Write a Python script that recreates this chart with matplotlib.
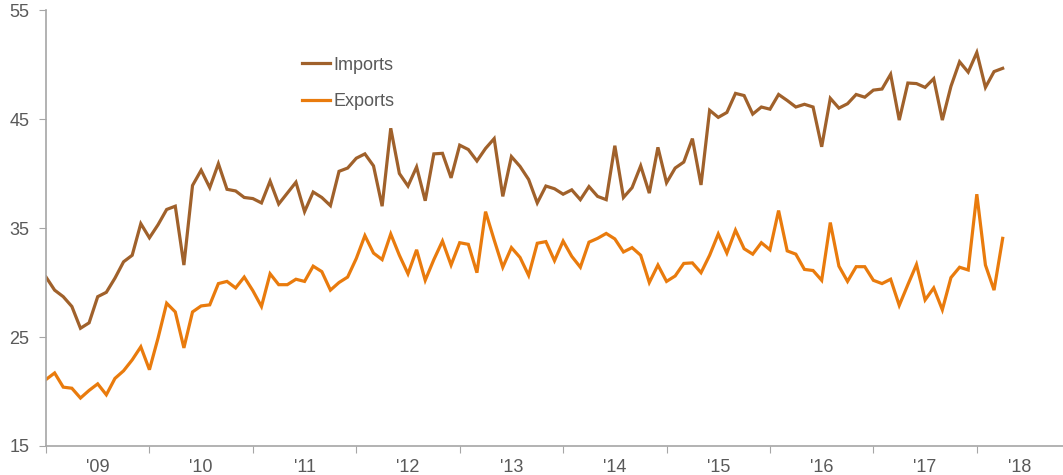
import matplotlib
matplotlib.use("Agg")
import matplotlib.pyplot as plt
import numpy as np

plt.rcParams["font.family"] = ["Liberation Sans", "DejaVu Sans"]

# monthly values, Jan 2009 - Apr 2018
imports = [30.5, 29.3, 28.7, 27.8, 25.8, 26.3, 28.7, 29.1, 30.4, 31.9,
           32.5, 35.4, 34.1, 35.3, 36.7, 37.0, 31.6, 38.9, 40.3, 38.7,
           40.9, 38.55, 38.4, 37.8, 37.7, 37.3, 39.3, 37.2, 38.2, 39.2,
           36.5, 38.3, 37.8, 37.05, 40.2, 40.5, 41.4, 41.8, 40.7, 37.0,
           44.15, 40.0, 38.85, 40.6, 37.5, 41.8, 41.85, 39.6, 42.6, 42.2,
           41.15, 42.3, 43.2, 37.9, 41.55, 40.65, 39.45, 37.3, 38.85, 38.6,
           38.1, 38.5, 37.6, 38.8, 37.9, 37.6, 42.55, 37.8, 38.7, 40.7,
           38.2, 42.4, 39.15, 40.5, 41.05, 43.2, 38.95, 45.8, 45.15, 45.6,
           47.35, 47.15, 45.45, 46.1, 45.9, 47.25, 46.7, 46.1, 46.35, 46.1,
           42.45, 46.9, 46.0, 46.4, 47.25, 47.0, 47.65, 47.75, 49.1, 44.9,
           48.3, 48.25, 47.9, 48.7, 44.9, 48.0, 50.25, 49.3, 51.1, 47.9,
           49.35, 49.65]
exports = [21.1, 21.7, 20.4, 20.3, 19.4, 20.1, 20.7, 19.7, 21.2, 21.9,
           22.9, 24.1, 22.0, 24.9, 28.1, 27.3, 24.0, 27.3, 27.85, 27.95,
           29.9, 30.1, 29.5, 30.5, 29.25, 27.8, 30.8, 29.8, 29.8, 30.3,
           30.1, 31.5, 31.0, 29.3, 30.0, 30.5, 32.2, 34.3, 32.7, 32.1,
           34.45, 32.5, 30.8, 33.0, 30.2, 32.1, 33.8, 31.6, 33.65, 33.5,
           30.9, 36.5, 33.9, 31.4, 33.2, 32.3, 30.65, 33.6, 33.75, 32.0,
           33.8, 32.4, 31.4, 33.7, 34.05, 34.5, 34.0, 32.8, 33.2, 32.5,
           30.0, 31.6, 30.1, 30.6, 31.75, 31.8, 30.9, 32.5, 34.45, 32.7,
           34.8, 33.1, 32.6, 33.65, 33.0, 36.6, 32.9, 32.6, 31.2, 31.1,
           30.2, 35.5, 31.5, 30.1, 31.45, 31.45, 30.2, 29.9, 30.3, 27.9,
           29.8, 31.65, 28.4, 29.5, 27.5, 30.45, 31.4, 31.15, 38.1, 31.6,
           29.3, 34.05]
year_labels = ["'09", "'10", "'11", "'12", "'13", "'14", "'15", "'16", "'17", "'18"]

months = np.arange(len(imports))
grey = "#595959"
axis_grey = "#A6A6A6"

fig = plt.figure(figsize=(10.63, 4.75), dpi=100)
ax = fig.add_axes([46 / 1063, 1 - 446 / 475, 1 - 46 / 1063, (446 - 10) / 475])

ax.plot(months, imports, color="#A0612B", lw=2.3, label="Imports", solid_joinstyle="miter")
ax.plot(months, exports, color="#E97B0D", lw=2.3, label="Exports", solid_joinstyle="miter")

ax.set_xlim(0, 118)
ax.set_ylim(15, 55)
ax.set_yticks([15, 25, 35, 45, 55])

# year boundaries as tick marks, labels in the middle of each year
ax.set_xticks(np.arange(0, 109, 12))
ax.set_xticklabels([])
label_pos = list(np.arange(6, 109, 12)) + [113]
ax.set_xticks(label_pos, minor=True)
ax.set_xticklabels(year_labels, minor=True)
ax.tick_params(axis="x", which="major", length=5, color=axis_grey, direction="out")
ax.tick_params(axis="x", which="minor", length=0, pad=9, labelsize=13, labelcolor=grey)
ax.tick_params(axis="y", length=5, color=axis_grey, pad=7, labelsize=13, labelcolor=grey)

for side in ["top", "right"]:
    ax.spines[side].set_visible(False)
for side in ["left", "bottom"]:
    ax.spines[side].set_color(axis_grey)
    ax.spines[side].set_linewidth(1.2)

leg = ax.legend(loc="upper left", bbox_to_anchor=(256 / 1017, (446 - 56.5) / 436),
                frameon=False, fontsize=13, handlelength=1.55, handletextpad=0.17,
                borderpad=0, borderaxespad=0, labelspacing=1.1)
for t in leg.get_texts():
    t.set_color(grey)

fig.savefig("out.png", dpi=100)
